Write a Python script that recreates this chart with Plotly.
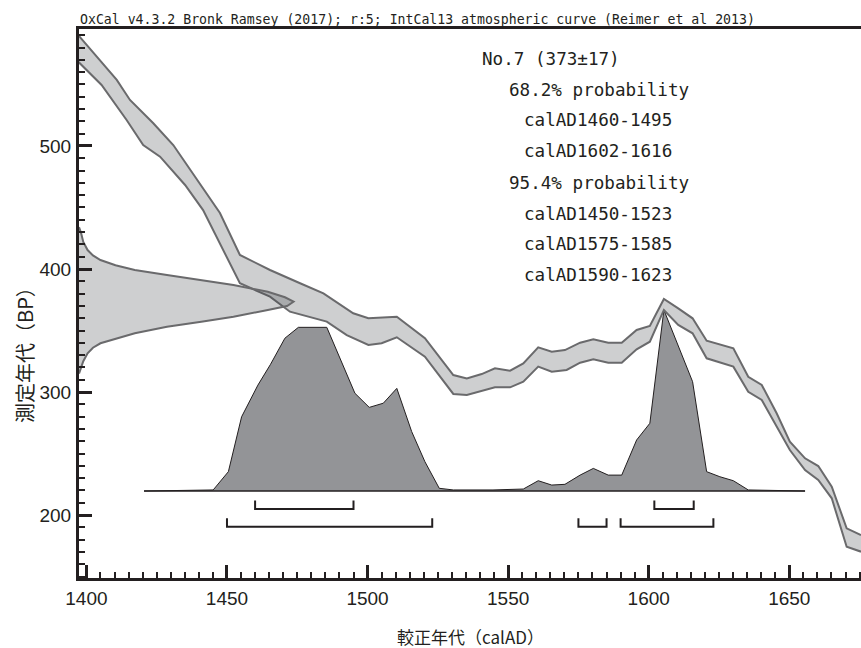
import plotly.graph_objects as go

# ---------------- data ----------------
# IntCal13 band, upper edge (year AD, BP)
band_upper_year = [1397.1, 1405.4, 1410.8, 1415.5, 1423.8, 1430.9, 1440.4, 1447.5, 1454.6,
                   1465.3, 1476.0, 1484.3, 1494.9, 1500.3, 1510.4, 1520.4, 1530.5, 1535.3,
                   1540.6, 1545.3, 1550.7, 1555.4, 1560.7, 1565.5, 1570.2, 1575.6, 1580.3,
                   1585.6, 1590.4, 1595.7, 1600.4, 1605.4, 1610.5, 1615.6, 1620.6, 1630.1,
                   1635.4, 1640.2, 1645.5, 1650.2, 1655.6, 1660.3, 1665.1, 1670.4, 1675.5]
band_upper_bp = [590.2, 568.5, 553.7, 537.4, 518.5, 500.8, 469.7, 445.5, 411.4,
                 399.2, 388.4, 380.2, 364.0, 359.9, 361.2, 343.7, 313.8, 311.1,
                 314.6, 319.3, 317.3, 323.3, 336.3, 332.8, 334.1, 340.1, 342.8,
                 340.1, 340.1, 350.4, 353.7, 375.6, 368.0, 359.9, 341.7, 335.5,
                 312.4, 305.7, 282.7, 259.6, 246.1, 239.8, 223.0, 189.2, 183.7]
# IntCal13 band, lower edge
band_lower_year = [1397.1, 1405.4, 1414.3, 1420.2, 1426.2, 1435.1, 1441.5, 1454.6, 1465.3,
                   1472.4, 1485.5, 1492.6, 1500.3, 1505.0, 1510.4, 1520.4, 1530.5, 1535.3,
                   1545.3, 1550.7, 1555.4, 1560.7, 1565.5, 1570.8, 1575.6, 1580.3, 1585.6,
                   1590.4, 1595.7, 1600.4, 1605.4, 1610.5, 1615.6, 1620.6, 1630.1, 1635.4,
                   1640.2, 1645.5, 1650.2, 1655.6, 1660.3, 1665.1, 1670.4, 1675.5]
band_lower_bp = [568.5, 549.6, 521.1, 500.8, 491.3, 468.3, 447.9, 388.4, 377.5,
                 365.3, 357.2, 346.3, 338.2, 339.6, 344.5, 328.7, 298.4, 297.6,
                 303.8, 303.8, 308.4, 320.6, 316.5, 317.9, 323.8, 326.6, 323.8,
                 323.8, 334.7, 340.9, 366.7, 354.5, 347.7, 327.4, 320.6, 300.2,
                 293.5, 271.8, 252.8, 236.6, 228.5, 213.6, 174.2, 170.2]

# Radiocarbon date 373 +/- 17 BP : relative density read along the y axis
date_bp = [434, 429, 422, 415.4, 411, 407.3, 403, 399.2, 395.1, 391, 387, 381.5, 377, 373.4,
           369.9, 366.7, 361.2, 357.2, 353.1, 347.7, 343.5, 339.6, 336, 331.5, 325, 320.6, 315]
date_density = [0.0, 0.01, 0.02, 0.04, 0.065, 0.10, 0.17, 0.26, 0.41, 0.57, 0.72, 0.88, 0.96, 1.0,
                0.97, 0.88, 0.72, 0.57, 0.41, 0.26, 0.17, 0.10, 0.065, 0.04, 0.02, 0.01, 0.0]

# Calibrated probability distribution (year AD, relative probability)
cal_year = [1420.5, 1445.1, 1450.5, 1455.2, 1461.0, 1465.5, 1470.6, 1475.4, 1485.5,
            1495.5, 1500.6, 1505.6, 1510.4, 1515.7, 1520.4, 1525.5, 1530.5, 1544.6,
            1555.4, 1560.7, 1565.5, 1570.2, 1575.6, 1580.3, 1585.6, 1590.4, 1595.7,
            1600.4, 1605.4, 1615.6, 1620.6, 1625.3, 1630.1, 1635.4, 1655.6]
cal_prob = [0.0, 0.006, 0.107, 0.41, 0.585, 0.70, 0.844, 0.904, 0.904,
            0.54, 0.462, 0.485, 0.567, 0.328, 0.162, 0.015, 0.006, 0.006,
            0.011, 0.057, 0.033, 0.037, 0.088, 0.125, 0.088, 0.088, 0.282,
            0.374, 1.0, 0.604, 0.107, 0.079, 0.057, 0.006, 0.0]

# Calibrated ranges
range_68 = [(1460, 1495), (1602, 1616)]
range_95 = [(1450, 1523), (1575, 1585), (1590, 1623)]

info_lines = ["No.7 (373±17)", "68.2% probability", "calAD1460-1495", "calAD1602-1616",
              "95.4% probability", "calAD1450-1523", "calAD1575-1585", "calAD1590-1623"]
title_text = "OxCal v4.3.2 Bronk Ramsey (2017); r:5; IntCal13 atmospheric curve (Reimer et al 2013)"
x_title = "較正年代（calAD）"
y_title = "測定年代（BP）"

# ---------------- layout constants ----------------
XMIN, XMAX = 1397.37, 1675.5
YMIN, YMAX = 148.8, 595.1
DATE_SCALE = 76.3      # years of width for density 1
CAL_BASE = 219.5       # BP level of calibrated-distribution baseline
CAL_HEIGHT = 147.2     # BP height for probability 1
B68_LOW, B68_TOP = 204.9, 211.8
B95_LOW, B95_TOP = 190.5, 197.3

INK = "#231f20"
BAND_FILL = "rgba(60,62,68,0.25)"
BAND_LINE = "#6a6a6c"
DARK_FILL = "#939497"

fig = go.Figure()

# calibrated distribution (dark)
fig.add_trace(go.Scatter(x=cal_year, y=[CAL_BASE + p * CAL_HEIGHT for p in cal_prob],
                         mode="lines", fill="toself", fillcolor=DARK_FILL,
                         line=dict(color=INK, width=1), hoverinfo="skip"))
fig.add_trace(go.Scatter(x=[cal_year[0], cal_year[-1]], y=[CAL_BASE, CAL_BASE],
                         mode="lines", line=dict(color=INK, width=1.5), hoverinfo="skip"))

# calibration band
fig.add_trace(go.Scatter(x=band_upper_year + band_lower_year[::-1],
                         y=band_upper_bp + band_lower_bp[::-1],
                         mode="lines", fill="toself", fillcolor=BAND_FILL,
                         line=dict(width=0), hoverinfo="skip"))
fig.add_trace(go.Scatter(x=band_upper_year, y=band_upper_bp, mode="lines",
                         line=dict(color=BAND_LINE, width=2), hoverinfo="skip"))
fig.add_trace(go.Scatter(x=band_lower_year, y=band_lower_bp, mode="lines",
                         line=dict(color=BAND_LINE, width=2), hoverinfo="skip"))

# radiocarbon date distribution on the y axis
fig.add_trace(go.Scatter(x=[XMIN + d * DATE_SCALE for d in date_density], y=date_bp,
                         mode="lines", fill="toself", fillcolor=BAND_FILL,
                         line=dict(color=BAND_LINE, width=2), hoverinfo="skip"))

# range brackets
def brackets(ranges, low, top):
    xs, ys = [], []
    for a, b in ranges:
        xs += [a, a, b, b, None]
        ys += [top, low, low, top, None]
    return xs, ys

for rng, lo, tp in [(range_68, B68_LOW, B68_TOP), (range_95, B95_LOW, B95_TOP)]:
    bx, by = brackets(rng, lo, tp)
    fig.add_trace(go.Scatter(x=bx, y=by, mode="lines", line=dict(color=INK, width=2),
                             hoverinfo="skip"))

# ---------------- annotations ----------------
PLOT_L, PLOT_W, PLOT_B, PLOT_H = 79, 782, 578, 549
def px(xp):
    return (xp - PLOT_L) / PLOT_W
def py(yp):
    return (PLOT_B - yp) / PLOT_H

mono = "DejaVu Sans Mono"
ann = []
ann.append(dict(text=title_text, x=px(78), y=py(19), xref="paper", yref="paper",
                xanchor="left", yanchor="middle", showarrow=False,
                font=dict(family=mono, size=13.2, color=INK)))
line_x = [480, 506.7, 521.7, 521.7, 506.7, 521.7, 521.7, 521.7]
line_y = [59, 90, 120.5, 151, 183, 213.5, 244, 274.5]
for t, lx, ly in zip(info_lines, line_x, line_y):
    ann.append(dict(text=t, x=px(lx), y=py(ly), xref="paper", yref="paper",
                    xanchor="left", yanchor="middle", showarrow=False,
                    font=dict(family=mono, size=17.6, color=INK)))
ann.append(dict(text=x_title, x=px(470), y=py(636), xref="paper", yref="paper",
                xanchor="center", yanchor="middle", showarrow=False,
                font=dict(family="Noto Sans CJK JP", size=17, color=INK)))
ann.append(dict(text=y_title, x=px(24), y=py(350), xref="paper", yref="paper",
                xanchor="center", yanchor="middle", showarrow=False, textangle=-90,
                font=dict(family="Noto Sans CJK JP", size=20, color=INK)))

tickfont = dict(family="Liberation Sans", size=19, color=INK)

fig.update_layout(
    width=861, height=648,
    margin=dict(l=79, r=0, t=29, b=70),
    paper_bgcolor="white", plot_bgcolor="white",
    showlegend=False,
    annotations=ann,
    xaxis=dict(range=[XMIN, XMAX], tick0=1400, dtick=50, ticks="inside", ticklen=13,
               tickwidth=2.5, tickcolor=INK, showline=True, linewidth=3, linecolor=INK,
               mirror=True, showgrid=False, zeroline=False, tickfont=tickfont,
               ticklabelstandoff=1,
               minor=dict(tick0=1400, dtick=5, ticks="inside", ticklen=6, tickwidth=1.5,
                          tickcolor=INK, showgrid=False)),
    yaxis=dict(range=[YMIN, YMAX], tick0=0, dtick=100, ticks="inside", ticklen=13,
               tickwidth=2.5, tickcolor=INK, showline=True, linewidth=3, linecolor=INK,
               mirror=False, showgrid=False, zeroline=False, tickfont=tickfont,
               ticklabelstandoff=1,
               minor=dict(tick0=0, dtick=10, ticks="inside", ticklen=6, tickwidth=1.5,
                          tickcolor=INK, showgrid=False)),
)

fig.write_html("out.html")
